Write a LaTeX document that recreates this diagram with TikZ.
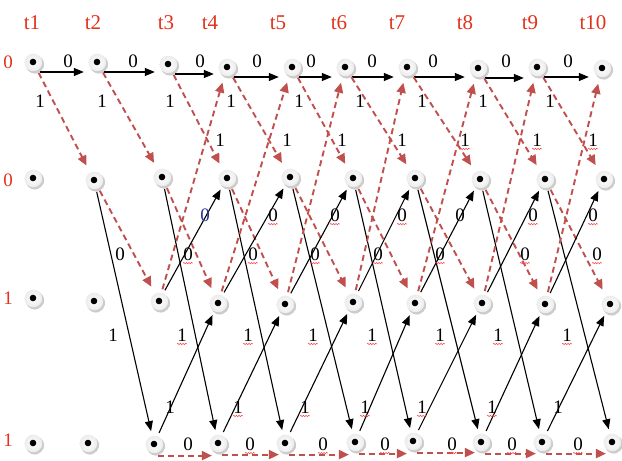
\documentclass[tikz,border=0pt]{standalone}
\usepackage{fontspec}
\setmainfont{Liberation Serif}
\usetikzlibrary{arrows.meta,decorations.pathmorphing}
\definecolor{tred}{RGB}{225,50,28}
\definecolor{dred}{RGB}{192,80,77}
\definecolor{lblue}{RGB}{40,50,140}
\tikzset{
 st/.style={circle, inner sep=0pt, minimum size=24pt, path picture={
   \fill[gray!40] ([shift={(2pt,-2.4pt)}]path picture bounding box.center) circle (9.2pt);
   \shade[inner color=white, outer color=gray!15] ([shift={(0.4pt,-0.4pt)}]path picture bounding box.center) circle (8.8pt);
   \fill[black] (path picture bounding box.center) circle (3.3pt);
 }},
 lab/.style={font=\fontsize{19pt}{19pt}\selectfont, inner sep=0pt},
 tl/.style={lab, text=tred},
 tt/.style={tl, font=\fontsize{21pt}{21pt}\selectfont},
 blue/.style={text=lblue},
 nosq/.style={},
 squig/.style={draw=red!75, line width=0.5pt, decorate, decoration={snake, amplitude=0.7pt, segment length=2.6pt}},
 sq/.style={append after command={([yshift=-2.5pt]\tikzlastnode.south west) edge[squig] ([yshift=-2.5pt]\tikzlastnode.south east)}},
 sol/.style={draw=black, line width=1.1pt, -{Triangle[length=10pt,width=8pt]}, shorten >=1pt},
 dsh/.style={draw=dred, line width=1.9pt, dash pattern=on 6pt off 4pt, -{Triangle[length=10pt,width=9pt]}, shorten >=4pt},
}
\begin{document}
\begin{tikzpicture}[x=1pt,y=-1pt]
\useasboundingbox (0,0) rectangle (622,461);
% states
\foreach \c/\x/\y in {1/33/62,2/97/62,3/168/64,4/227/67,5/292/67,6/345/67,7/407/67,8/478/68,9/537/67,10/602/68}
  \node[st] (r1c\c) at (\x,\y) {};
\foreach \c/\x/\y in {1/33/178,2/94/180,3/162/177,4/227/178,5/290/177,6/353/178,7/415/178,8/480/179,9/545/179,10/604/179}
  \node[st] (r2c\c) at (\x,\y) {};
\foreach \c/\x/\y in {1/33/298,2/94/301,3/159/301,4/218/303,5/285/304,6/353/302,7/415/303,8/482/303,9/545/304,10/610/304}
  \node[st] (r3c\c) at (\x,\y) {};
\foreach \c/\x/\y in {1/33/443,2/88/443,3/154/444,4/218/443,5/285/443,6/355/442,7/413/441,8/481/442,9/542/442,10/612/442}
  \node[st] (r4c\c) at (\x,\y) {};
% transitions
\foreach \i in {1,...,9}{
  \pgfmathtruncatemacro\j{\i+1}
  \draw[sol] (r1c\i.-55) -- (r1c\i.-55 -| r1c\j.west);
  \draw[dsh] (r1c\i) -- (r2c\j);
}
\foreach \i in {2,...,9}{
  \pgfmathtruncatemacro\j{\i+1}
  \draw[dsh] (r2c\i) -- (r3c\j);
  \draw[sol] (r2c\i) -- (r4c\j);
}
\foreach \i in {3,...,9}{
  \pgfmathtruncatemacro\j{\i+1}
  \draw[dsh] (r3c\i) -- (r1c\j);
  \draw[sol] (r3c\i) -- (r2c\j);
  \draw[sol] (r4c\i) -- (r3c\j);
  \draw[dsh, shorten >=0pt] (r4c\i.-72) -- (r4c\i.-72 -| r4c\j.-120);
}
% time labels
\foreach \t/\x in {1/32,2/93,3/166,4/210,5/278,6/339,7/397,8/465,9/530,10/593}
  \node[tt] (t\t) at (\x,23) {t\t};
% state labels
\node[tl] (s1) at (8,62) {0};
\node[tl] (s2) at (8,180) {0};
\node[tl] (s3) at (8,298) {1};
\node[tl] (s4) at (8,440) {1};
% branch labels
\foreach \x [count=\k] in {68,133,200,257,311,372,433,506,568}
  \node[lab] (za\k) at (\x,61) {0};
\foreach \x [count=\k] in {40,102,170,231,299,360,422,483,550}
  \node[lab] (oa\k) at (\x,101) {1};
\foreach \x/\s [count=\k] in {220/nosq,287/nosq,342/nosq,402/nosq,465/sq,537/sq,593/sq}
  \node[lab,\s] (ob\k) at (\x,140) {1};
\foreach \x/\s [count=\k] in {205/blue,273/sq,335/sq,402/sq,460/nosq,533/sq,593/sq}
  \node[lab,\s] (zb\k) at (\x,215) {0};
\foreach \x/\s [count=\k] in {120/nosq,188/sq,253/sq,315/sq,378/sq,440/sq,525/sq,597/sq}
  \node[lab,\s] (zc\k) at (\x,254) {0};
\foreach \x/\s [count=\k] in {113/nosq,182/sq,248/sq,313/sq,372/sq,440/sq,498/sq,567/sq}
  \node[lab,\s] (oc\k) at (\x,335) {1};
\foreach \x/\s [count=\k] in {170/nosq,238/sq,305/sq,365/sq,422/sq,492/sq,558/nosq}
  \node[lab,\s] (od\k) at (\x,407) {1};
\foreach \x/\s [count=\k] in {188/nosq,250/sq,323/sq,385/sq,452/sq,512/sq,578/sq}
  \node[lab,\s] (zd\k) at (\x,444) {0};
\end{tikzpicture}
\end{document}
